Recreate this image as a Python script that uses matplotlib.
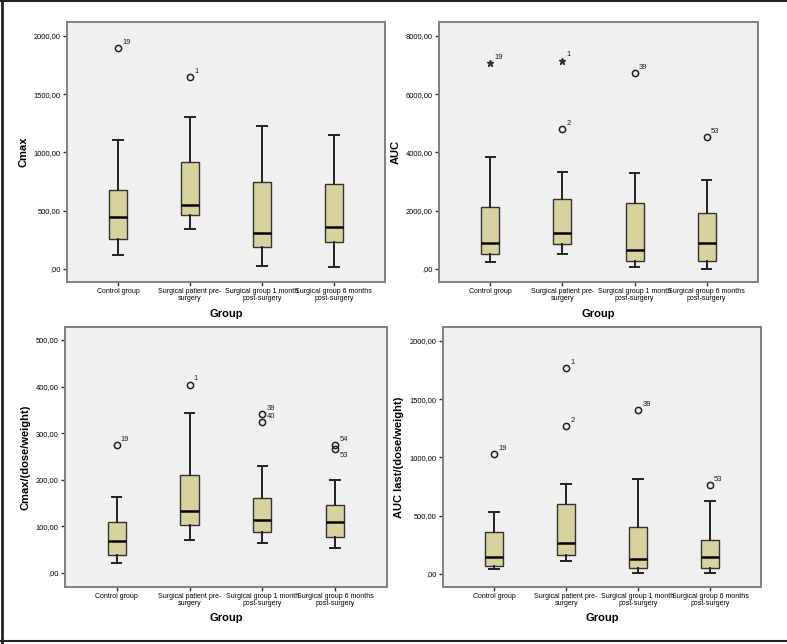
import matplotlib
matplotlib.use("Agg")
import matplotlib.pyplot as plt
from matplotlib.ticker import FuncFormatter
from matplotlib.lines import Line2D

groups = ["Control group", "Surgical patient pre-\nsurgery",
          "Surgical group 1 month\npost-surgery", "Surgical group 6 months\npost-surgery"]

# Cmax  (outliers: value, case number, marker)
cmax_lo = [117, 343, 29, 20]
cmax_q1 = [257, 466, 186, 229]
cmax_med = [443, 545, 311, 363]
cmax_q3 = [674, 917, 749, 726]
cmax_hi = [1111, 1303, 1229, 1151]
cmax_out = [[(1894, "19", "o")], [(1643, "1", "o")], [], []]

# AUC
auc_lo = [229, 503, 57, 11]
auc_q1 = [503, 869, 286, 286]
auc_med = [880, 1223, 651, 903]
auc_q3 = [2137, 2389, 2252, 1932]
auc_hi = [3829, 3337, 3280, 3052]
auc_out = [[(7075, "19", "*")], [(7155, "1", "*"), (4789, "2", "o")],
           [(6732, "39", "o")], [(4537, "53", "o")]]

# Cmax/(dose/weight)
cmw_lo = [21, 71, 64, 53]
cmw_q1 = [39, 104, 89, 77]
cmw_med = [69, 134, 114, 109]
cmw_q3 = [110, 211, 161, 146]
cmw_hi = [162, 344, 230, 199]
cmw_out = [[(274, "19", "o")], [(404, "1", "o")],
           [(341, "39", "o"), (323, "40", "o")],
           [(274, "54", "o"), (266, "53", "o")]]

# AUC last/(dose/weight)
aw_lo = [46, 109, 9, 6]
aw_q1 = [69, 166, 54, 49]
aw_med = [146, 263, 126, 146]
aw_q3 = [360, 597, 400, 289]
aw_hi = [529, 769, 814, 629]
aw_out = [[(1026, "19", "o")], [(1763, "1", "o"), (1269, "2", "o")],
          [(1406, "39", "o")], [(763, "53", "o")]]

box_color = "#D8D39E"
frame_color = "#7f7f7f"
font = "Liberation Sans"

# labels that SPSS put below-right instead of above-right
below_labels = {("Cmax/(dose/weight)", "53")}


def comma_fmt(v, pos):
    s = "%.2f" % v
    s = s.replace(".", ",")
    if s.startswith("0,"):
        s = s[1:]
    return s


def draw_panel(rect, lo, q1, med, q3, hi, outs, ylabel, ylim, yticks):
    ax = fig.add_axes(rect)
    ax.set_facecolor("#F0F0F0")
    stats = []
    for i in range(len(groups)):
        stats.append(dict(whislo=lo[i], q1=q1[i], med=med[i], q3=q3[i],
                          whishi=hi[i], fliers=[]))
    ax.bxp(stats, positions=range(1, 5), widths=0.25, capwidths=0.13,
           patch_artist=True, showfliers=False,
           boxprops=dict(facecolor=box_color, edgecolor="#333333", linewidth=1.0),
           medianprops=dict(color="black", linewidth=1.8),
           whiskerprops=dict(color="#222222", linewidth=1.4),
           capprops=dict(color="#222222", linewidth=1.4))
    for i, pts in enumerate(outs):
        for val, lab, mk in pts:
            if mk == "*":
                ax.plot(i + 1, val, marker="*", color="#333333", markersize=5,
                        linestyle="none")
            else:
                ax.plot(i + 1, val, marker="o", markerfacecolor="none",
                        markeredgecolor="#222222", markersize=4.5,
                        markeredgewidth=1.1, linestyle="none")
            if (ylabel, lab) in below_labels:
                off = (3, -6)
            else:
                off = (3, 3)
            ax.annotate(lab, (i + 1, val), xytext=off, textcoords="offset points",
                        fontsize=5.5, family=font, color="#222222")
    ax.set_xlim(0.29, 4.71)
    ax.set_ylim(*ylim)
    ax.set_yticks(yticks)
    ax.yaxis.set_major_formatter(FuncFormatter(comma_fmt))
    ax.set_xticks(range(1, 5))
    ax.set_xticklabels(groups, fontsize=5.0, family=font, linespacing=0.85)
    for t in ax.get_yticklabels():
        t.set_fontsize(5.4)
        t.set_family(font)
    ax.tick_params(axis="both", length=3, width=1, color="#333333", pad=1.5)
    for s in ax.spines.values():
        s.set_color(frame_color)
        s.set_linewidth(1.4)
    ax.set_ylabel(ylabel, fontsize=8, fontweight="bold", family=font, labelpad=4)
    ax.set_xlabel("Group", fontsize=8, fontweight="bold", family=font, labelpad=5)
    return ax


fig = plt.figure(figsize=(7.87, 6.44), dpi=100)
fig.patch.set_facecolor("white")

draw_panel([0.0851, 0.562, 0.404, 0.404], cmax_lo, cmax_q1, cmax_med, cmax_q3, cmax_hi,
           cmax_out, "Cmax", (-112, 2120), [0, 500, 1000, 1500, 2000])
draw_panel([0.558, 0.562, 0.405, 0.404], auc_lo, auc_q1, auc_med, auc_q3, auc_hi,
           auc_out, "AUC", (-448, 8480), [0, 2000, 4000, 6000, 8000])
draw_panel([0.0826, 0.0885, 0.409, 0.404], cmw_lo, cmw_q1, cmw_med, cmw_q3, cmw_hi,
           cmw_out, "Cmax/(dose/weight)", (-30, 528), [0, 100, 200, 300, 400, 500])
draw_panel([0.563, 0.0885, 0.404, 0.404], aw_lo, aw_q1, aw_med, aw_q3, aw_hi,
           aw_out, "AUC last/(dose/weight)", (-112, 2120), [0, 500, 1000, 1500, 2000])

# outer frame of the figure
fig.add_artist(Line2D([0.002, 0.002], [0, 1], color="#222222", linewidth=2))
fig.add_artist(Line2D([0, 1], [0.998, 0.998], color="#222222", linewidth=1.5))
fig.add_artist(Line2D([0, 1], [0.004, 0.004], color="#222222", linewidth=1.5))

fig.savefig("out.png", dpi=100, facecolor="white")
